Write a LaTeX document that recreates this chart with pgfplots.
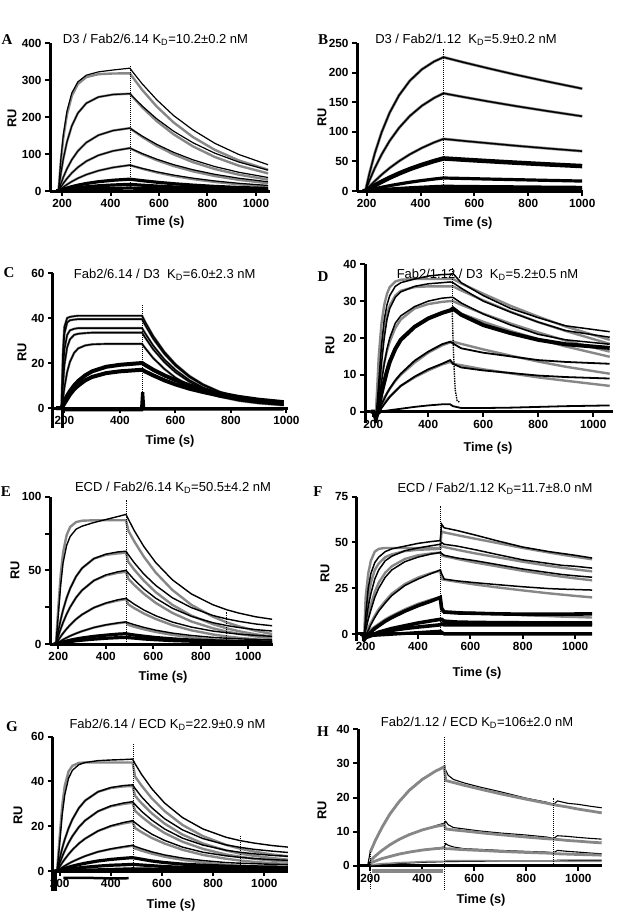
\documentclass[border=0pt]{standalone}
\usepackage{fontspec}
\setmainfont{Liberation Sans}
\newfontfamily\serif{Liberation Serif}
\usepackage{pgfplots}
\usepackage{pgfplotstable}
\pgfplotsset{compat=1.18}
\pgfplotsset{
  ax/.style={
    scale only axis, anchor=south west, enlargelimits=false,
    axis line style={line width=3pt},
    tick style={line width=2pt, black},
    major tick length=5pt, minor tick length=5pt,
    tick align=outside,
    xtick={200,400,600,800,1000},
    scaled ticks=false,
    tick label style={font=\fontsize{11.8}{13}\selectfont\bfseries},
    /pgf/number format/assume math mode=true,
    /pgf/number format/1000 sep={},
    hide obscured x ticks=false, hide obscured y ticks=false,
  },
  axL/.style={ax, axis lines*=left},
  axM/.style={ax, axis x line*=middle, axis y line*=left},
}
\tikzset{
  bk/.style={black, line width=1.2pt},
  bkm/.style={black, line width=1.8pt},
  bkk/.style={black, line width=3.2pt},
  gr/.style={color=black!47, line width=2.4pt},
  dt/.style={black, line width=1pt, densely dotted},
  ttl/.style={font=\fontsize{13}{15}\selectfont},
  lab/.style={font=\fontsize{12.8}{14}\selectfont\bfseries},
  let/.style={font=\fontsize{15}{17}\selectfont\serif\bfseries},
}

\pgfplotstableread{
t b1 b2 b3 b4 b5 b6 b7 b8 g1 g2 g3 g4 g5
175 0 0 0 0 0 0 0 0 0 0 0 0 0
185 0 0 0 0 0 0 0 0 0 0 0 0 0
195 88 47.8 19.8 10.7 5.4 2.5 1.4 0.6 82.4 47.8 19.8 10.7 5.4
205 152 87 37.4 20.6 10.5 4.8 2.7 1.2 143.5 87 37.4 20.6 10.5
220 216 132.7 60 33.7 17.4 8 4.5 2 206.7 132.7 60 33.7 17.4
240 265 176 84.6 48.7 25.6 11.7 6.6 2.9 257 176 84.6 48.7 25.6
265 295 210.5 108 64 34.4 15.7 8.8 3.9 289.2 210.5 108 64 34.4
300 313 237.3 131 80.5 44.3 20.3 11.4 5.1 308 237.3 131 80.5 44.3
350 322 254 150.9 96.5 54.9 25.1 14.1 6.3 315.7 254 150.9 96.5 54.9
410 327 260.8 163.3 108.3 63.6 29.1 16.3 7.3 317.6 260.8 163.3 108.3 63.6
480 332 263 170 116 70 32 18 8 318 263 170 116 70
490 323 256 165.4 112.9 68.1 31.1 17.5 7.8 308.6 255.2 165 112.6 67.9
530 290 230 148.6 101.4 61.2 28 15.7 7 273.7 226.4 146.3 99.8 60.2
590 247 195.4 126.3 86.2 52 23.8 13.4 5.9 228.6 189.1 122.2 83.4 50.3
660 204 161.7 104.6 71.3 43.1 19.7 11.1 4.9 185.3 153.3 99.1 67.6 40.8
740 165 130.4 84.3 57.5 34.7 15.9 8.9 4 145.8 120.6 77.9 53.2 32.1
830 129 102.3 66.1 45.1 27.2 12.4 7 3.1 111.3 92 59.5 40.6 24.5
930 98.5 78.1 50.5 34.5 20.8 9.5 5.3 2.4 82.4 68.2 44.1 30.1 18.1
1050 71 56.4 36.5 24.9 15 6.9 3.9 1.7 57.5 47.6 30.8 21 12.7
}\tA

\pgfplotstableread{
t b1 b2 b3 b4 b5 b6 b7
185 0 0 0 0 0 0 0
195 0 0 0 0 0 0 0
210 29.5 17.6 7.5 4.2 1.7 0.6 0.2
230 63.6 38.6 16.7 9.4 3.8 1.4 0.5
255 98.7 61.4 27.4 15.6 6.2 2.3 0.9
285 132.1 84.6 38.8 22.4 9 3.3 1.2
320 161.6 106.6 50.4 29.6 11.8 4.3 1.6
360 186.2 126.7 61.9 37 14.8 5.4 2
405 205.5 144 72.8 44.2 17.7 6.4 2.4
450 218.7 157.1 82 50.6 20.2 7.4 2.8
485 226 165 88 55 22 8 3
490 225.4 164.6 87.8 54.9 21.9 8 3
560 217.3 158.7 84.6 52.9 21.2 7.7 2.9
650 207.4 151.4 80.8 50.5 20.2 7.3 2.8
750 196.8 143.7 76.6 47.9 19.2 7 2.6
870 185 135.1 72 45 18 6.5 2.5
1000 172.9 126.2 67.3 42.1 16.8 6.1 2.3
}\tB

\pgfplotstableread{
t c1 c2 c3 c4 c5 c6 c7
170 0 0 0 0 0 0 0
190 0 0 0 0 0 0 0
195 25 22 15 10 4 1.5 1
200 36 33 26 19 9 3 2
210 40 38 32.5 27 16 5.5 4
220 40.5 39 34.5 30.5 20.5 7.5 6
235 40.8 39.3 35.2 32.5 24.5 10 8.3
250 41 39.5 35.5 33 26.5 12 10
275 41 39.5 35.5 33.3 27.8 14.5 12.3
300 41 39.5 35.5 33.5 28.3 16.3 13.8
350 41 39.5 35.5 33.5 28.5 18.3 15.5
400 41 39.5 35.5 33.5 28.5 19.2 16.3
480 41 39.5 35.5 33.5 28.5 20 17
490 38.5 37.1 33.4 31.5 26.8 19.2 16.3
520 32 30.8 27.7 26.1 22.2 17 14.5
560 25 24.1 21.6 20.4 17.4 14.5 12.3
600 19.5 18.8 16.9 15.9 13.5 12.4 10.5
650 14.3 13.8 12.4 11.7 9.9 10.1 8.6
700 10.5 10.1 9.1 8.6 7.3 8.3 7.1
760 7.2 7 6.3 5.9 5 6.5 5.5
830 4.7 4.5 4 3.8 3.2 4.9 4.2
900 3 2.9 2.6 2.5 2.1 3.7 3.2
990 1.7 1.7 1.5 1.4 1.2 2.6 2.2
}\tC

\pgfplotstableread{
t d1 d2 d3 d4 d5 d6 d7 g1 g2 g3 g4 g5 g6
190 0 0 0 0 0 0 0 0 0 0 0 0 0
200 0 0 0 0 0 0 0 0 0 0 0 0 0
210 -2 -2 -2 -2 -2 -2 -1 0 0 0 0 0 0
220 8 5 3 1.5 0 -0.5 -0.5 15 10 5 3 1 0.5
230 18 13 8 5 2 1 0 24 17 9.5 6 2.5 1.5
240 25 20 13 8 3.5 2 0.2 29 22.5 13.3 9 3.8 2.5
250 29 25 17 11 5 3 0.3 32 26.3 16.5 11.5 5 3.3
260 31.5 28 20 13.5 6.3 4 0.4 33.8 28.8 19 13.8 6.2 4.1
280 34 31 24 17 8.5 5.5 0.6 35.3 31.5 22.7 17.3 8.3 5.6
300 35 32.5 26 19.5 10.3 7 0.8 35.8 32.8 25 19.8 10 7
350 36 34 28.5 23 13.8 9.5 1.3 36 33.8 28 23.2 13.3 9.3
400 36.8 34.7 30 25.3 16.3 11.5 1.7 36 34 29.2 25.3 16 11.2
450 37.2 35 30.8 26.8 18.3 13 2 36 34 29.8 26.7 18 12.8
480 37.3 35.2 31 27.5 19 14 2 36 34 30 27.3 18.8 13.5
490 37.5 35 31 28 18.5 13 1.5 36 34 30 27.5 19 13
520 35 33.5 29.5 26.3 17.2 12 1 34.8 32.9 29 26.6 18.4 12.6
600 31.5 30 26.5 23.5 16 11.2 1 32 30.2 26.6 24.4 16.9 11.5
700 28 27 23.5 21.3 15 10.5 1.1 28.7 27.1 23.9 21.9 15.2 10.4
800 25.5 24.3 21 19.5 14 9.8 1.3 25.8 24.3 21.5 19.7 13.6 9.3
900 23.3 22 19.5 18.3 13.5 9.4 1.5 23.1 21.9 19.3 17.7 12.2 8.4
1060 21.7 20.2 18.3 17.3 13 9 1.7 19.5 18.4 16.3 14.9 10.3 7
}\tD

\pgfplotstableread{
t b1 b2 b3 b4 b5 b6 b7 g1 g2 g3 g4 g5
180 0 0 0 0 0 0 0 0 0 0 0 0
190 0 0 0 0 0 0 0 0 0 0 0 0
200 20 8.9 5.4 2.6 1.1 0.5 0.3 25 8.9 5.4 2.6 1.1
210 40 16.5 10.3 5.1 2 1 0.6 47 16.5 10.3 5.1 2
220 55 23.1 14.6 7.3 3 1.4 0.9 62 23.1 14.6 7.3 3
235 67 31.3 20.3 10.3 4.3 2 1.3 74 31.3 20.3 10.3 4.3
250 73 37.8 25.1 13 5.5 2.6 1.6 79.5 37.8 25.1 13 5.5
275 78 45.9 31.6 16.9 7.2 3.4 2.2 82.8 45.9 31.6 16.9 7.2
300 80 51.5 36.5 20 8.7 4.1 2.6 83.7 51.5 36.5 20 8.7
350 82.5 58 43.1 24.7 11.2 5.2 3.3 84 58 43.1 24.7 11.2
400 84.5 61 46.9 27.8 13 6 3.9 84 60.5 46.5 27.6 12.9
450 86.5 62.5 49 30 14.3 6.7 4.3 84 61.5 48.3 29.5 14.1
485 88 63 50 31 15 7 4.5 84 62 49 30.5 14.8
495 84.7 60.6 48.1 29.8 14.4 6.7 4.3 76.9 55.7 44.2 26.9 13
520 76.9 55.1 43.6 27 13.1 6.1 4 69.6 50.4 40 24.3 11.7
560 66.2 47.5 37.4 23.1 11.3 5.3 3.4 59.3 43 34.1 20.7 10
610 55.3 39.8 31.1 19.2 9.4 4.4 2.9 48.5 35.2 27.9 17 8.2
680 43.6 31.4 24.3 14.9 7.4 3.5 2.3 36.7 26.6 21.1 12.8 6.2
760 34 24.7 18.8 11.5 5.8 2.7 1.9 26.6 19.3 15.3 9.3 4.5
850 26.7 19.4 14.5 8.8 4.5 2.2 1.5 18.6 13.5 10.7 6.5 3.1
910 23.2 17 12.5 7.6 3.9 1.9 1.3 14.6 10.6 8.4 5.1 2.5
960 21 15.4 11.2 6.7 3.5 1.7 1.2 12 8.7 6.9 4.2 2
1030 18.5 13.6 9.8 5.9 3.1 1.5 1.1 9 6.6 5.2 3.2 1.5
1100 16.8 12.4 8.8 5.2 2.8 1.4 1 6.8 5 3.9 2.4 1.2
}\tE

\pgfplotstableread{
t f1 f2 f3 f4 f5 f6 f7 g1 g2 g3 g4 g5
180 0 0 0 0 0 0 0 0 0 0 0 0
190 0 0 0 0 0 0 0 0 0 0 0 0
195 -2 -2 -2 -3 -3 -3 -2 0 0 0 0 0
200 10 5 2 -1 -2 -2 -1.5 20 8 3 1 0.5
210 25 15 8 2 -0.5 -1.5 -1 33 20 10 3.5 1.5
220 33 22 13 5 1 -1 -0.5 40 28 16 6 2.5
235 39 30 20 9 3 0 0 45 35 23 10 4
250 42 35 25 12.5 4.5 1 0.5 46.5 38.5 28 13.5 5.5
275 45 40 31 17 7 2 1.3 47 42 33.5 18 8
300 46.5 42.5 35 21 9 3 2 47 43.5 37 22 10
350 48 45.5 39.5 26.5 12.5 4.5 3 47 45.3 41 27.3 13.5
400 49.5 47 42 30 15.5 6 3.8 47 46 43 30.8 16.5
450 50.5 48.2 43.7 33 18 7.2 4.5 47 46.3 44 33.3 18.8
485 51 49 44.5 35 20 8 5 47 46.5 44.5 34.5 20
490 60 50 44 33 14 8 5.5 56 48 43 30 12.5
500 58 49 43 30 12 7 5 55.5 47.5 42.5 29.6 12.4
550 56.5 48 41.5 29 11.5 6.5 5 54 46 41 28.5 12
620 54 46 40 28 11.3 6.3 5 52 44 39 27 11.5
700 51 43.5 38 27 11 6.2 5 49.8 42 37 25.5 11
800 47.5 40.5 35.5 25.8 10.8 6.1 5 47 39.5 34.5 23.8 10.3
900 45 38.5 33.5 24.8 10.8 6 5 44.5 37.2 32.3 22.2 9.8
950 44 37.5 32.5 24.5 10.8 6 5 43.3 36.2 31.3 21.5 9.5
1000 43 37 31.8 24.3 10.9 6 5 42.2 35.3 30.4 20.8 9.3
1065 41.5 36 31 24 11 6 5 40.8 34.2 29.3 20 9
}\tF

\pgfplotstableread{
t b1 b2 b3 b4 b5 b6 b7 g1 g2 g3 g4 g5
180 0 0 0 0 0 0 0 0 0 0 0 0
190 0 0 0 0 0 0 0 0 0 0 0 0
200 12 5.4 3.4 1.9 0.8 0.4 0.2 15 5.4 3.4 1.9 0.8
210 25 10.1 6.4 3.7 1.6 0.8 0.4 29 10.1 6.4 3.7 1.6
220 34 14.1 9.1 5.3 2.3 1.2 0.6 38 14.1 9.1 5.3 2.3
235 41.5 19.1 12.6 7.5 3.3 1.7 0.9 44.5 19.1 12.6 7.5 3.3
250 45 23.1 15.6 9.5 4.2 2.2 1.1 47 23.1 15.6 9.5 4.2
275 47.5 28.1 19.6 12.3 5.5 2.9 1.4 48.3 28.1 19.6 12.3 5.5
300 48.5 31.5 22.6 14.5 6.7 3.5 1.7 48.5 31.5 22.6 14.5 6.7
350 49.3 35.4 26.7 17.9 8.6 4.5 2.2 48.5 35.4 26.7 17.9 8.6
400 49.6 37.3 29.1 20.2 9.9 5.2 2.6 48.5 37.1 28.9 20 9.8
450 49.8 38.2 30.4 21.7 10.9 5.7 2.8 48.5 37.8 30 21.3 10.7
485 50 38.5 31 22.5 11.5 6 3 48.5 38 30.5 22 11.3
495 47.9 36.9 29.7 21.6 11 5.8 2.9 42.2 33.6 26.9 19.2 10.1
520 43.2 33.2 26.7 19.4 10 5.3 2.7 38.2 30.3 24.3 17.4 9.1
560 36.8 28.3 22.8 16.5 8.6 4.5 2.4 32.5 25.8 20.7 14.8 7.8
610 30.4 23.4 18.8 13.7 7.2 3.8 2 26.8 21.2 17 12.3 6.4
680 23.9 18.4 14.7 10.7 5.8 3.1 1.7 20.6 16.3 13.1 9.5 5
760 18.8 14.5 11.6 8.4 4.7 2.6 1.5 15.6 12.3 9.9 7.2 3.8
850 15.1 11.7 9.3 6.8 3.8 2.2 1.3 11.7 9.2 7.4 5.5 2.8
905 13.6 10.6 8.4 6.1 3.5 2 1.2 10 7.8 6.4 4.7 2.4
960 12.5 9.7 7.7 5.6 3.3 1.9 1.2 8.7 6.8 5.5 4.1 2.1
1030 11.4 8.9 7 5.1 3 1.8 1.1 7.4 5.8 4.7 3.5 1.8
1092 10.7 8.3 6.6 4.8 2.9 1.7 1.1 6.6 5.1 4.2 3.2 1.6
}\tG

\pgfplotstableread{
t b1 b2 b3 b4 g1 g2 g3 g4
190 0 0 0 0 nan nan nan nan
200 4.2 1.3 0.8 0 4 1.5 0.8 0.3
220 7.3 3 1.3 0.2 7.5 2.9 1.4 0.4
245 11.5 4.4 2.2 0.3 11.2 4.5 2.1 0.6
275 15.3 6.3 2.6 0.5 15.1 6.1 2.7 0.7
310 18.5 7.5 3.5 0.6 18.7 7.7 3.4 0.9
350 22.3 9.3 3.9 0.8 22.1 9.1 4 1
400 25.5 10.4 4.7 1 25.3 10.5 4.6 1.2
450 27.6 11.7 5.1 1.1 27.7 11.5 5 1.3
485 29.3 12.5 5.5 1.2 29 12 5.2 1.3
490 28 13 6.5 1.2 25 10.8 5 1.5
500 26.5 12 6 1.2 24.8 10.7 5 1.5
520 25.3 11.2 5.5 1.2 24.4 10.5 4.9 1.5
560 24.3 10.8 5 1.3 23.6 10.2 4.7 1.5
620 23.1 10.2 4.8 1.3 22.5 9.7 4.5 1.5
700 21.7 9.6 4.5 1.4 21.1 9.1 4.2 1.4
800 19.8 9 4.2 1.4 19.5 8.4 3.9 1.4
880 18.6 8.4 4 1.5 18.3 7.9 3.7 1.4
905 18 8 3.8 1.5 17.9 7.8 3.6 1.4
920 19 8.8 4.5 1.6 17.7 7.7 3.5 1.4
960 18.3 8.6 4.2 1.6 17.2 7.4 3.4 1.3
1000 18 8.3 4 1.6 16.6 7.2 3.3 1.3
1050 17.4 8 3.7 1.6 16 6.9 3.2 1.3
1090 17 7.8 3.5 1.6 15.5 6.7 3.1 1.3
}\tH

\begin{document}
\begin{tikzpicture}
\useasboundingbox (0pt,0pt) rectangle (617pt,-913pt);

% ---------- A ----------
\begin{axis}[axL, at={(50pt,-191pt)}, width=220pt, height=148pt,
  xmin=150, xmax=1058, ymin=0, ymax=400, ytick={0,100,200,300,400}]
\foreach \c in {g1,g2,g3,g4,g5}{\addplot[gr] table[x=t,y=\c]{\tA};}
\foreach \c in {b1,b2,b3,b4,b5}{\addplot[bk] table[x=t,y=\c]{\tA};}
\foreach \c in {b6,b7,b8}{\addplot[bkk] table[x=t,y=\c]{\tA};}
\addplot[dt] coordinates {(483,0) (483,340)};
\end{axis}

% ---------- B ----------
\begin{axis}[axL, at={(357pt,-191pt)}, width=226pt, height=148pt,
  xmin=164, xmax=1003, ymin=0, ymax=250, ytick={0,50,100,150,200,250}]
\foreach \c in {b1,b2,b3}{\addplot[gr, line width=2.8pt] table[x=t,y=\c]{\tB};}
\foreach \c in {b1,b2,b3}{\addplot[bk, line width=1.5pt] table[x=t,y=\c]{\tB};}
\addplot[black, line width=4.5pt] table[x=t,y=b4]{\tB};
\foreach \c in {b5,b6,b7}{\addplot[bkk] table[x=t,y=\c]{\tB};}
\addplot[dt] coordinates {(485,0) (485,240)};
\end{axis}

% ---------- C ----------
\begin{axis}[axM, at={(53pt,-428.25pt)}, width=234.8pt, height=155.25pt,
  xmin=159, xmax=1005, ymin=-9, ymax=60, ytick={0,20,40,60}]
\foreach \c in {c1,c2,c3,c4,c5}{\addplot[gr] table[x=t,y=\c]{\tC};}
\foreach \c in {c1,c2,c3,c4,c5}{\addplot[bk, line width=1.4pt] table[x=t,y=\c]{\tC};}
\foreach \c in {c6,c7}{\addplot[black, line width=4pt] table[x=t,y=\c]{\tC};}
\addplot[bkk] coordinates {(195,-0.8) (478,-0.8) (482,7) (486,-0.5) (990,-0.5)};
\addplot[black, line width=3pt] coordinates {(193,0) (193,-9)};
\addplot[dt] coordinates {(482,0) (482,46)};
\end{axis}

% ---------- D ----------
\begin{axis}[axM, at={(365pt,-422.75pt)}, width=248pt, height=158.5pt,
  xmin=170, xmax=1072, ymin=-3, ymax=40, ytick={0,10,20,30,40}]
\foreach \c in {g1,g2,g3,g4,g5,g6}{\addplot[gr] table[x=t,y=\c]{\tD};}
\foreach \c in {d1,d2,d3}{\addplot[bk, line width=1.5pt] table[x=t,y=\c]{\tD};}
\addplot[black, line width=4pt] table[x=t,y=d4]{\tD};
\foreach \c in {d5,d6,d7}{\addplot[bkm] table[x=t,y=\c]{\tD};}
\addplot[black, line width=1.4pt, densely dotted] coordinates {(487,28) (490,20) (494,12) (498,6) (505,3) (515,2.5)};
\addplot[dt] coordinates {(490,28) (490,39)};
\addplot[black, line width=3pt] coordinates {(208,0) (208,-3)};
\end{axis}

% ---------- E ----------
\begin{axis}[axL, at={(50pt,-644pt)}, width=223.3pt, height=147.3pt,
  xmin=165, xmax=1105, ymin=0, ymax=100, ytick={0,50,100}, minor ytick={25,75}]
\foreach \c in {g1,g2,g3,g4,g5}{\addplot[gr] table[x=t,y=\c]{\tE};}
\foreach \c in {b1,b2,b3,b4,b5}{\addplot[bk, line width=1.4pt] table[x=t,y=\c]{\tE};}
\foreach \c in {b6,b7}{\addplot[bkk] table[x=t,y=\c]{\tE};}
\addplot[dt] coordinates {(487,0) (487,98)};
\addplot[dt] coordinates {(910,0) (910,22)};
\end{axis}

% ---------- F ----------
\begin{axis}[axM, at={(356.7pt,-641.3pt)}, width=235.5pt, height=144.6pt,
  xmin=166, xmax=1065, ymin=-4, ymax=75, ytick={0,25,50,75}]
\foreach \c in {g1,g2,g3,g4,g5}{\addplot[gr] table[x=t,y=\c]{\tF};}
\foreach \c in {f1,f2,f3,f4}{\addplot[bk, line width=1.5pt] table[x=t,y=\c]{\tF};}
\foreach \c in {f5,f6,f7}{\addplot[black, line width=3.6pt] table[x=t,y=\c]{\tF};}
\addplot[bkk] coordinates {(200,-1) (485,1.5) (500,0) (1065,0)};
\addplot[dt] coordinates {(487,0) (487,70)};
\addplot[black, line width=3pt] coordinates {(192,0) (192,-4)};
\end{axis}

% ---------- G ----------
\begin{axis}[axM, at={(52.7pt,-891.2pt)}, width=235.2pt, height=154.5pt,
  xmin=173, xmax=1092, ymin=-9, ymax=60, ytick={0,20,40,60}]
\foreach \c in {g1,g2,g3,g4,g5}{\addplot[gr] table[x=t,y=\c]{\tG};}
\foreach \c in {b1,b2,b3,b4,b5}{\addplot[bk, line width=1.4pt] table[x=t,y=\c]{\tG};}
\foreach \c in {b6,b7}{\addplot[bkk] table[x=t,y=\c]{\tG};}
\addplot[bkk] coordinates {(190,0) (485,1) (600,0.8) (1092,0.5)};
\addplot[black, line width=2.5pt] coordinates {(215,-3) (300,-3) (400,-3.3) (470,-3.2)};
\addplot[dt] coordinates {(487,0) (487,57)};
\addplot[dt] coordinates {(905,0) (905,16)};
\addplot[black, line width=4pt] coordinates {(183,0) (183,-9)};
\end{axis}

% ---------- H ----------
\begin{axis}[axM, at={(358.3pt,-889.6pt)}, width=243.9pt, height=160.3pt,
  xmin=154, xmax=1092, ymin=-7, ymax=40, ytick={0,10,20,30,40}]
\foreach \c in {b1,b2,b3,b4}{\addplot[black, line width=1.1pt] table[x=t,y=\c]{\tH};}
\addplot[black, line width=2.6pt] coordinates {(200,0) (1090,0)};
\foreach \c in {g1,g2,g3}{\addplot[color=black!47, line width=2.8pt] table[x=t,y=\c]{\tH};}
\addplot[color=black!47, line width=1.6pt] table[x=t,y=g4]{\tH};
\addplot[color=black!47, line width=4pt] coordinates {(205,-1.5) (480,-1.5)};
\addplot[dt] coordinates {(487,-7) (487,38)};
\addplot[dt] coordinates {(200,-8) (200,4)};
\addplot[dt] coordinates {(905,0) (905,20)};
\end{axis}

% ---------- titles ----------
\node[ttl] at (155.5pt,-40pt) {D3 / Fab2/6.14 K\textsubscript{D}=10.2±0.2 nM};
\node[ttl] at (466pt,-40pt) {D3 / Fab2/1.12\ \ K\textsubscript{D}=5.9±0.2 nM};
\node[ttl] at (164.7pt,-275pt) {Fab2/6.14 / D3\ \ K\textsubscript{D}=6.0±2.3 nM};
\node[ttl] at (487.5pt,-275pt) {Fab2/1.12 / D3\ \ K\textsubscript{D}=5.2±0.5 nM};
\node[ttl] at (173pt,-488pt) {ECD / Fab2/6.14 K\textsubscript{D}=50.5±4.2 nM};
\node[ttl] at (495pt,-489pt) {ECD / Fab2/1.12 K\textsubscript{D}=11.7±8.0 nM};
\node[ttl] at (167.5pt,-725pt) {Fab2/6.14 / ECD K\textsubscript{D}=22.9±0.9 nM};
\node[ttl] at (477pt,-723pt) {Fab2/1.12 / ECD K\textsubscript{D}=106±2.0 nM};

% ---------- panel letters ----------
\node[let] at (7pt,-40pt) {A};
\node[let] at (323pt,-40pt) {B};
\node[let] at (9pt,-273pt) {C};
\node[let] at (323pt,-277pt) {D};
\node[let] at (6pt,-492pt) {E};
\node[let] at (318pt,-492pt) {F};
\node[let] at (12pt,-727pt) {G};
\node[let] at (323pt,-732pt) {H};

% ---------- axis labels ----------
\node[lab, rotate=90] at (12pt,-118pt) {RU};
\node[lab, rotate=90] at (322pt,-117pt) {RU};
\node[lab, rotate=90] at (22pt,-352pt) {RU};
\node[lab, rotate=90] at (330pt,-345pt) {RU};
\node[lab, rotate=90] at (15pt,-570pt) {RU};
\node[lab, rotate=90] at (325pt,-573pt) {RU};
\node[lab, rotate=90] at (18pt,-815pt) {RU};
\node[lab, rotate=90] at (322pt,-810pt) {RU};

\node[lab] at (160pt,-222pt) {Time (s)};
\node[lab] at (468pt,-223pt) {Time (s)};
\node[lab] at (170pt,-441pt) {Time (s)};
\node[lab] at (488pt,-448pt) {Time (s)};
\node[lab] at (163pt,-677pt) {Time (s)};
\node[lab] at (477pt,-673pt) {Time (s)};
\node[lab] at (171pt,-905pt) {Time (s)};
\node[lab] at (481pt,-900pt) {Time (s)};
\end{tikzpicture}
\end{document}
